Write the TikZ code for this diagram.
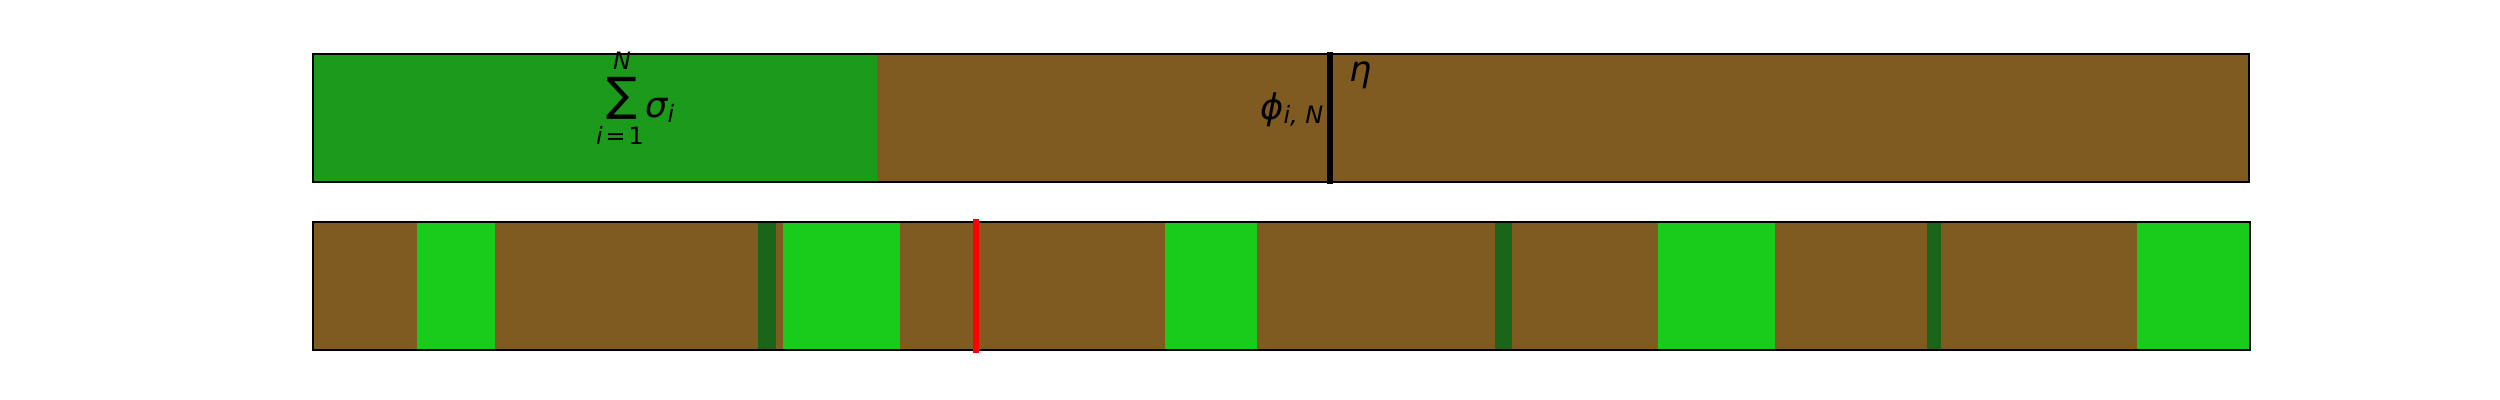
\documentclass[tikz,border=0pt]{standalone}
\usepackage{fontspec}
\setmainfont{DejaVu Sans}
\usepackage{graphicx}
\definecolor{topgreen}{RGB}{28,154,28}
\definecolor{soil}{RGB}{127,90,33}
\definecolor{brightgreen}{RGB}{25,204,28}
\definecolor{darkgreen}{RGB}{27,101,27}
\definecolor{redline}{RGB}{255,0,0}
\tikzset{
  border/.style={draw=black, line width=0.022cm},
  marker/.style={line width=0.057cm},
  lbl/.style={inner sep=0pt, font=\fontsize{10}{12}\selectfont},
  sublbl/.style={inner sep=0pt, font=\fontsize{6.8}{8}\selectfont},
}
\begin{document}
\begin{tikzpicture}[x=0.01cm,y=-0.01cm]
\useasboundingbox (0,0) rectangle (2500,400);
% top bar
\fill[topgreen] (313,54) rectangle (877,182);
\fill[soil] (877,54) rectangle (2249,182);
\draw[border] (313,54) rectangle (2249,182);
\coordinate (etatop) at (1330,52);
\coordinate (etabot) at (1330,184);
\draw[marker, black] (etatop) -- (etabot);
% labels top
\node[inner sep=0pt, anchor=north west] (sum) at (606,77) {\resizebox*{0.31cm}{0.42cm}{∑}};
\node[sublbl, anchor=base] (sumN) at (622,69) {\itshape N};
\node[sublbl, anchor=base] (sumlow) at (620,144) {\itshape i\upshape\hspace{0.12em}=\hspace{0.12em}1};
\node[lbl, anchor=base west] (sigma) at (645,117) {\itshape σ};
\node[sublbl, anchor=base west] (sigmai) at (667,122) {\itshape i};
\node[sublbl, anchor=base east] (phisub) at (1324,123) {\itshape i, N};
\node[lbl, anchor=base east] (phi) at ([xshift=0.02cm, yshift=0.03cm]phisub.base west) {\itshape ϕ};
\node[lbl, anchor=base west] (eta) at (1349,81) {\itshape η};
% bottom bar
\fill[soil] (313,222) rectangle (2250,350);
\foreach \a/\b in {417/495, 783/900, 1165/1257, 1658/1775, 2137/2250}
  \fill[brightgreen] (\a,222) rectangle (\b,350);
\foreach \a/\b in {758/776, 1495/1512, 1927/1941}
  \fill[darkgreen] (\a,222) rectangle (\b,350);
\draw[border] (313,222) rectangle (2250,350);
\coordinate (redtop) at (976,219);
\coordinate (redbot) at (976,353);
\draw[line width=0.053cm, redline] (redtop) -- (redbot);
\end{tikzpicture}
\end{document}
